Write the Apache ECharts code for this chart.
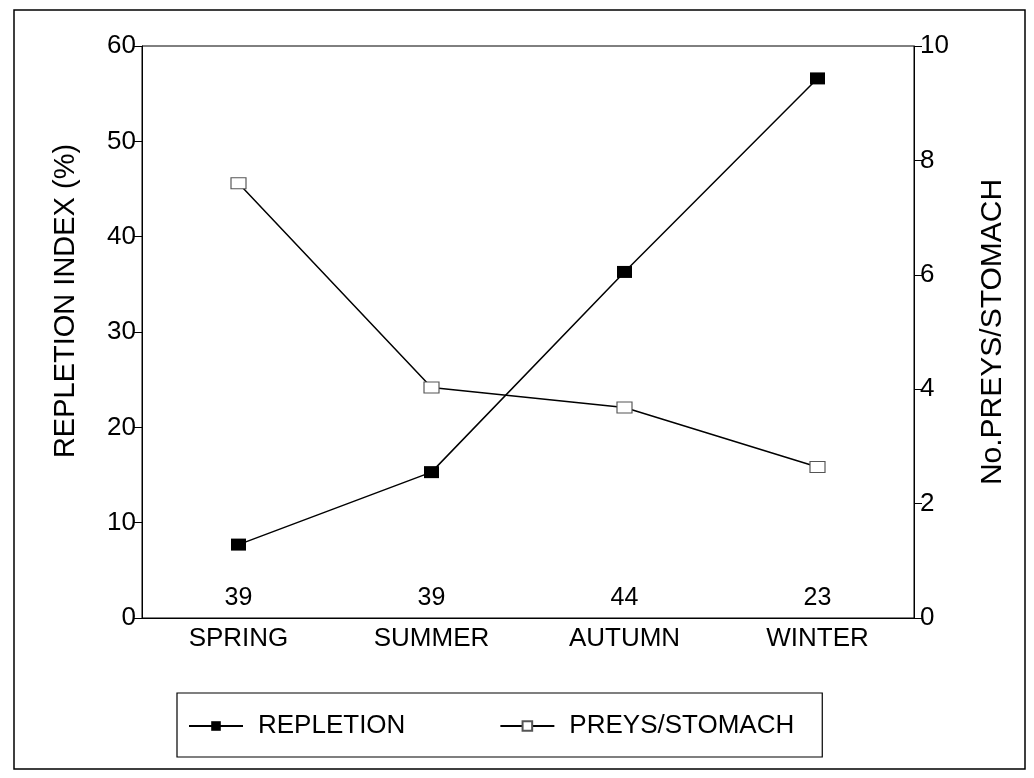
<!DOCTYPE html>
<html>
<head>
    <meta charset="utf-8">
    <script src="https://cdn.jsdelivr.net/npm/echarts@6/dist/echarts.min.js"></script>
    <style>
        body {
            margin: 0;
            background: #fff;
        }

        #myChart {
            width: 1034px;
            height: 778px;
        }
    </style>
</head>
<body>
<div id="myChart"></div>
<script>
    // seasons on the x axis
    const seasons = ['SPRING', 'SUMMER', 'AUTUMN', 'WINTER']
    // stomachs examined per season (printed above the axis)
    const sampleSizes = [39, 39, 44, 23]
    // repletion index (%), left axis
    const repletion = [7.7, 15.3, 36.3, 56.6]
    // number of preys per stomach, right axis
    const preysPerStomach = [7.6, 4.03, 3.68, 2.64]

    const leftTicks = [0, 10, 20, 30, 40, 50, 60]
    const rightTicks = [0, 2, 4, 6, 8, 10]

    const font = 'Liberation Sans, Arial, sans-serif'

    const option = {
        animation: false,
        backgroundColor: '#fff',
        textStyle: {fontFamily: font, color: '#000'},
        graphic: [
            {
                type: 'rect',
                shape: {x: 14, y: 10, width: 1011, height: 759},
                style: {fill: 'none', stroke: '#000', lineWidth: 1.5}
            }
        ],
        grid: {
            left: 142, right: 120, top: 46, bottom: 160,
            show: true, borderColor: '#000', borderWidth: 1
        },
        legend: {
            data: ['REPLETION', 'PREYS/STOMACH'],
            top: 693,
            left: 177,
            padding: [20, 28, 18, 11],
            itemGap: 94,
            itemWidth: 54,
            itemHeight: 12,
            borderColor: '#000',
            borderWidth: 1.2,
            selectedMode: false,
            textStyle: {fontFamily: font, fontSize: 26, color: '#000', padding: [0, 0, 0, 10]}
        },
        xAxis: [
            {
                type: 'category',
                data: seasons,
                boundaryGap: true,
                axisLine: {lineStyle: {color: '#000', width: 1}},
                axisTick: {alignWithLabel: true, length: 8, lineStyle: {color: '#000'}},
                axisLabel: {fontFamily: font, fontSize: 26, color: '#000', margin: 8},
                splitLine: {show: false}
            }
        ],
        yAxis: [
            {
                type: 'value',
                position: 'left',
                min: leftTicks[0],
                max: leftTicks[leftTicks.length - 1],
                interval: 10,
                name: 'REPLETION INDEX (%)',
                nameLocation: 'middle',
                nameGap: 62,
                nameRotate: 90,
                nameTextStyle: {fontFamily: font, fontSize: 29, color: '#000', padding: [0, 0, 0, 62]},
                axisLine: {show: true, lineStyle: {color: '#000'}},
                axisTick: {show: true, length: 8, lineStyle: {color: '#000'}},
                axisLabel: {fontFamily: font, fontSize: 26, color: '#000', margin: 6},
                splitLine: {show: false}
            },
            {
                type: 'value',
                position: 'right',
                min: rightTicks[0],
                max: rightTicks[rightTicks.length - 1],
                interval: 2,
                name: 'No.PREYS/STOMACH',
                nameLocation: 'middle',
                nameGap: 64,
                nameRotate: 90,
                nameTextStyle: {fontFamily: font, fontSize: 30, color: '#000'},
                axisLine: {show: true, lineStyle: {color: '#000'}},
                axisTick: {show: true, length: 8, lineStyle: {color: '#000'}},
                axisLabel: {fontFamily: font, fontSize: 26, color: '#000', margin: 6},
                splitLine: {show: false}
            }
        ],
        series: [
            {
                name: 'REPLETION',
                type: 'line',
                yAxisIndex: 0,
                data: repletion,
                symbol: 'rect',
                symbolSize: [15, 12],
                lineStyle: {color: '#000', width: 1.5},
                itemStyle: {color: '#000', borderColor: '#000', borderWidth: 0},
                z: 3
            },
            {
                name: 'PREYS/STOMACH',
                type: 'line',
                yAxisIndex: 1,
                data: preysPerStomach,
                symbol: 'rect',
                symbolSize: [15, 11],
                lineStyle: {color: '#000', width: 1.5},
                itemStyle: {color: '#fff', borderColor: '#555', borderWidth: 1},
                z: 2
            },
            {
                // sample size labels sitting on the x axis
                name: 'n',
                type: 'scatter',
                yAxisIndex: 0,
                data: sampleSizes.map(() => 0),
                symbolSize: 0,
                silent: true,
                itemStyle: {opacity: 1},
                label: {
                    show: true,
                    position: 'top',
                    distance: 7,
                    fontFamily: font,
                    fontSize: 25,
                    color: '#000',
                    opacity: 1,
                    formatter: p => String(sampleSizes[p.dataIndex])
                }
            }
        ]
    }

    const myChart = echarts.init(document.getElementById('myChart'), null, {renderer: 'canvas'})
    myChart.setOption(option)
</script>
</body>
</html>
